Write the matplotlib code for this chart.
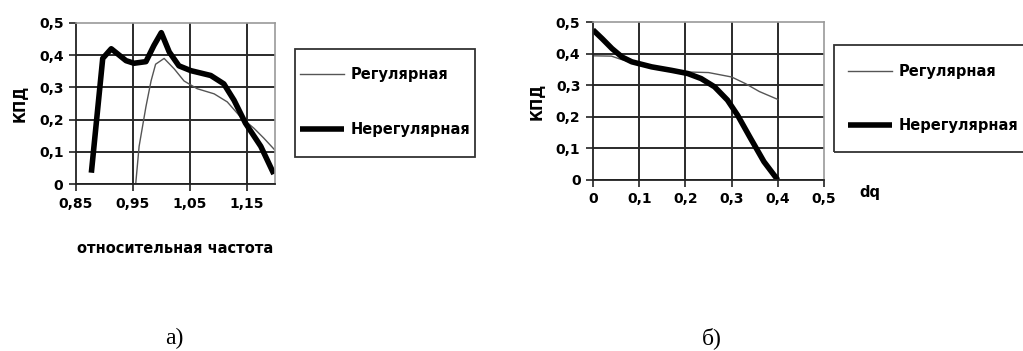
import numpy as np
import matplotlib
matplotlib.use("Agg")
import matplotlib.pyplot as plt
from matplotlib.patches import Rectangle

plt.rcParams['font.family'] = ['DejaVu Sans']

# (a) efficiency vs relative frequency
freq_irr = [0.877, 0.897, 0.912, 0.938, 0.952, 0.973, 0.987, 1.000, 1.014, 1.031,
            1.052, 1.087, 1.110, 1.128, 1.148, 1.175, 1.198]
kpd_irr = [0.035, 0.39, 0.42, 0.383, 0.375, 0.38, 0.43, 0.47, 0.41, 0.367,
           0.352, 0.337, 0.311, 0.26, 0.189, 0.117, 0.031]
freq_reg = [0.955, 0.961, 0.973, 0.982, 0.990, 1.005, 1.023, 1.040, 1.063, 1.093,
            1.116, 1.139, 1.163, 1.180, 1.200]
kpd_reg = [0.0, 0.117, 0.24, 0.32, 0.372, 0.39, 0.357, 0.32, 0.296, 0.28,
           0.255, 0.209, 0.173, 0.143, 0.105]

# (b) efficiency vs dq
dq_irr = [0.0, 0.02, 0.041, 0.063, 0.084, 0.127, 0.17, 0.205, 0.234, 0.263,
          0.291, 0.313, 0.341, 0.37, 0.4]
kpd_b_irr = [0.475, 0.447, 0.416, 0.389, 0.374, 0.358, 0.347, 0.337, 0.321, 0.295,
             0.253, 0.205, 0.132, 0.058, 0.0]
dq_reg = [0.0, 0.04, 0.06, 0.1, 0.15, 0.2, 0.25, 0.3, 0.33, 0.36, 0.4]
kpd_b_reg = [0.393, 0.392, 0.382, 0.366, 0.353, 0.342, 0.34, 0.326, 0.305, 0.28, 0.255]

labels = ['Регулярная', 'Нерегулярная']

W, H = 1023, 351
fig = plt.figure(figsize=(W / 100, H / 100), dpi=100)


def px_axes(left, top, right, bottom):
    return fig.add_axes([left / W, 1 - bottom / H, (right - left) / W, (bottom - top) / H])


def style(ax):
    for s in ['top', 'right']:
        ax.spines[s].set_color('#9a9a9a')
        ax.spines[s].set_linewidth(1.2)
    for s in ['left', 'bottom']:
        ax.spines[s].set_color('#222222')
        ax.spines[s].set_linewidth(1.3)
    ax.tick_params(direction='out', length=5, width=1.2, color='#222222',
                   labelsize=10, pad=4)
    ax.set_ylim(0, 0.5)
    ax.set_yticks(np.arange(0, 0.51, 0.1))
    ax.set_yticklabels(['0', '0,1', '0,2', '0,3', '0,4', '0,5'], fontweight='bold')
    ax.set_axisbelow(True)
    ax.set_ylabel('КПД', fontsize=10.5, fontweight='bold', labelpad=8)


def add_grid(ax):
    # grid lines inside the plot area only (border stays light gray)
    ax.grid(True, color='#2a2a2a', linewidth=1.4)
    ax.yaxis.get_gridlines()[-1].set_visible(False)
    ax.xaxis.get_gridlines()[0].set_visible(False)
    lo, hi = ax.get_xlim()
    if np.isclose(ax.get_xticks()[-1], hi):
        ax.xaxis.get_gridlines()[-1].set_visible(False)


def add_legend(ax, box, x_handle, y_mid):
    l, t, r, b = box
    fig.patches.append(Rectangle((l / W, 1 - b / H), (r - l) / W, (b - t) / H,
                                 transform=fig.transFigure, fill=False,
                                 edgecolor='#333333', linewidth=1.3))
    leg = fig.legend(handles=ax.get_lines(), labels=labels, loc='center left',
                     bbox_to_anchor=(x_handle / W, 1 - y_mid / H), frameon=False,
                     borderpad=0, borderaxespad=0, handlelength=3.0,
                     handletextpad=0.45, labelspacing=2.7,
                     prop={'weight': 'bold', 'size': 10.5})
    return leg


# ---- (a)
ax1 = px_axes(76, 23, 275, 184)
style(ax1)
ax1.plot(freq_reg, kpd_reg, color='#555555', linewidth=1.0, label=labels[0])
ax1.plot(freq_irr, kpd_irr, color='black', linewidth=4.0, solid_joinstyle='round',
         solid_capstyle='butt', label=labels[1])
ax1.set_xlim(0.85, 1.2)
ax1.set_xticks([0.85, 0.95, 1.05, 1.15])
ax1.set_xticklabels(['0,85', '0,95', '1,05', '1,15'], fontweight='bold')
ax1.set_xlabel('относительная частота', fontsize=10.5, fontweight='bold', labelpad=22)
add_grid(ax1)
add_legend(ax1, (295, 49, 475, 157), 300, 102)

# ---- (b)
ax2 = px_axes(593, 22, 824, 180)
style(ax2)
ax2.plot(dq_reg, kpd_b_reg, color='#555555', linewidth=1.0, label=labels[0])
ax2.plot(dq_irr, kpd_b_irr, color='black', linewidth=4.0, solid_joinstyle='round',
         solid_capstyle='butt', label=labels[1])
ax2.set_xlim(0, 0.5)
ax2.set_xticks(np.arange(0, 0.51, 0.1))
ax2.set_xticklabels(['0', '0,1', '0,2', '0,3', '0,4', '0,5'], fontweight='bold')
add_grid(ax2)
add_legend(ax2, (834, 45, 1040, 152), 848, 98.5)
fig.text(870 / W, 1 - 193 / H, 'dq', fontsize=10.5, fontweight='bold',
         ha='center', va='center')

# captions
for x, s in [(174, 'а)'), (712, 'б)')]:
    fig.text(x / W, 1 - 338 / H, s, fontsize=17, family='Liberation Serif',
             ha='center', va='center')

fig.savefig('out.png', dpi=100)
